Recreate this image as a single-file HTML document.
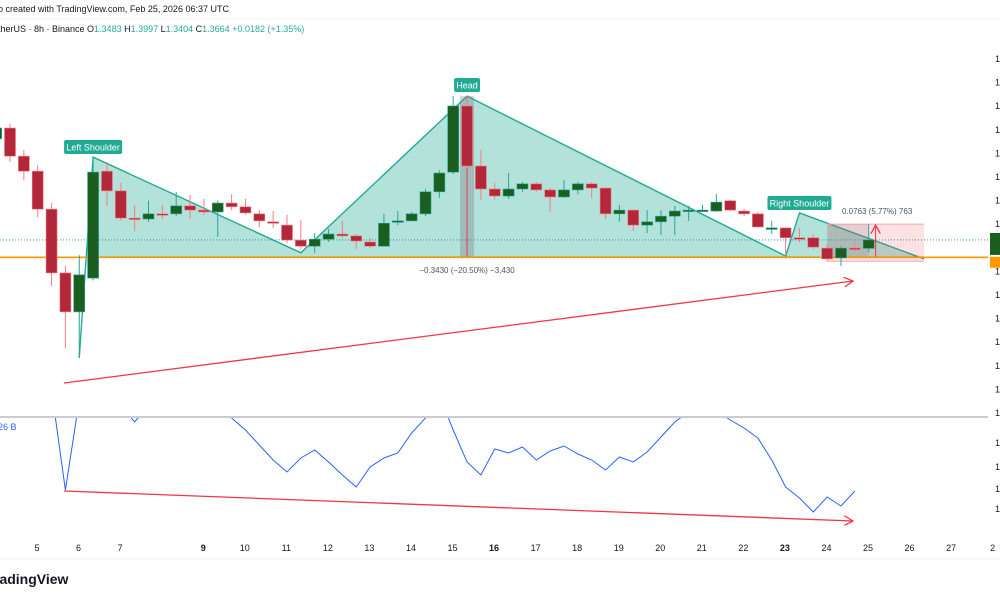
<!DOCTYPE html>
<html><head><meta charset="utf-8">
<style>
html,body{margin:0;padding:0;background:#fff;width:1000px;height:600px;overflow:hidden;font-family:"Liberation Sans",sans-serif;}
svg{display:block}
</style></head>
<body>
<svg id="chart" width="1000" height="600" viewBox="0 0 1000 600" xmlns="http://www.w3.org/2000/svg">
  <defs>
    <clipPath id="mainClip"><rect x="0" y="40" width="988" height="376"/></clipPath>
    <clipPath id="oscClip"><rect x="0" y="418" width="988" height="122"/></clipPath>
    <marker id="arr" markerWidth="10" markerHeight="10" refX="9" refY="5" orient="auto" markerUnits="userSpaceOnUse">
      <path d="M0,0 L9,5 L0,10" fill="none" stroke="#f23645" stroke-width="1.3"/>
    </marker>
  </defs>
  <text x="-2" y="12" font-size="9" fill="#131722">o created with TradingView.com, Feb 25, 2026 06:37 UTC</text>
  <line x1="0" y1="19" x2="1000" y2="19" stroke="#eef0f3"/>
  <text x="-2" y="32" font-size="9" fill="#131722">therUS · 8h · Binance  O<tspan fill="#22ab94">1.3483</tspan>  H<tspan fill="#22ab94">1.3997</tspan>  L<tspan fill="#22ab94">1.3404</tspan>  C<tspan fill="#22ab94">1.3664</tspan>  <tspan fill="#22ab94">+0.0182 (+1.35%)</tspan></text>
  <g id="g-main" clip-path="url(#mainClip)"></g>
  <g id="g-osc" clip-path="url(#oscClip)"></g>
  <g id="g-axis"></g>
  <line x1="0" y1="417" x2="988" y2="417" stroke="#9598a1" stroke-width="1"/>
  <text x="-2" y="430" font-size="9" fill="#2962ff">26 B</text>
  <line x1="0" y1="559" x2="1000" y2="559" stroke="#eef0f3"/>
  <text x="-6" y="584" font-size="14" font-weight="bold" fill="#131722">radingView</text>
</svg>
<script>
// ---- data ----
const opens  = [1.582,1.605,1.545,1.513,1.432,1.296,1.213,1.285,1.513,1.471,1.413,1.411,1.422,1.422,1.439,1.430,1.426,1.445,1.437,1.422,1.405,1.398,1.366,1.353,1.368,1.379,1.375,1.362,1.353,1.406,1.407,1.422,1.469,1.511,1.652,1.524,1.475,1.460,1.475,1.486,1.473,1.458,1.473,1.486,1.477,1.422,1.430,1.398,1.405,1.417,1.430,1.430,1.428,1.450,1.428,1.422,1.392,1.392,1.371,1.371,1.349,1.328,1.349,1.3483];
const highs  = [1.610,1.614,1.558,1.526,1.445,1.311,1.334,1.543,1.533,1.488,1.441,1.450,1.441,1.469,1.462,1.454,1.450,1.464,1.454,1.430,1.428,1.420,1.409,1.381,1.390,1.407,1.379,1.371,1.422,1.428,1.426,1.475,1.515,1.673,1.673,1.558,1.488,1.509,1.490,1.490,1.477,1.494,1.490,1.490,1.477,1.441,1.430,1.430,1.430,1.439,1.439,1.441,1.464,1.452,1.432,1.426,1.407,1.392,1.392,1.377,1.358,1.353,1.362,1.3997];
const lows   = [1.578,1.533,1.494,1.415,1.268,1.136,1.115,1.280,1.439,1.407,1.385,1.405,1.411,1.417,1.411,1.420,1.373,1.430,1.420,1.394,1.392,1.360,1.347,1.339,1.362,1.371,1.347,1.349,1.353,1.398,1.407,1.417,1.456,1.507,1.520,1.452,1.452,1.454,1.469,1.469,1.426,1.456,1.464,1.456,1.411,1.405,1.385,1.381,1.377,1.377,1.407,1.426,1.426,1.428,1.417,1.394,1.379,1.334,1.362,1.347,1.321,1.311,1.343,1.3404];
const closes = [1.605,1.545,1.513,1.432,1.296,1.213,1.292,1.511,1.471,1.413,1.411,1.422,1.421,1.439,1.430,1.426,1.445,1.437,1.424,1.407,1.402,1.366,1.353,1.368,1.379,1.375,1.364,1.353,1.402,1.407,1.422,1.469,1.509,1.652,1.524,1.475,1.460,1.475,1.486,1.473,1.458,1.473,1.486,1.477,1.422,1.430,1.398,1.405,1.417,1.428,1.430,1.430,1.447,1.430,1.422,1.394,1.392,1.371,1.370,1.351,1.326,1.349,1.348,1.3664];
// oscillator values, one per bar (starting at bar 4)
const oscStart = 4;
const oscValues = [150,50,140,150,145,135,118,135,140,140,140,140,135,122,110,95,80,68,82,90,78,65,53,73,82,87,107,122,145,110,78,65,91,87,93,80,89,94,86,80,70,83,78,88,103,118,128,135,130,120,112,102,80,53,42,28,43,34,49];
const dayLabels = ["5","6","7","9","10","11","12","13","14","15","16","17","18","19","20","21","22","23","24","25","26","27","2"];
const dayNums   = [5,6,7,9,10,11,12,13,14,15,16,17,18,19,20,21,22,23,24,25,26,27,28];
const boldDays  = ["9","16","23"];
// pattern points: [bar index, price]
const patternBars   = [6,7,22,34,57,58,67];
const patternPrices = [1.115,1.543,1.339,1.673,1.332,1.424,1.326];
const neckline = 1.3305;
const lastClose = 1.3664;

// ---- scales ----
const barW = 13.85;
const xOf = i => 10 + (i - 1) * barW;
const xDay = d => 37 + (d - 5) * 41.55;
const yOf = p => 257 - (p - 1.33) * 469;
const yOsc = v => 540 - v;

const NS = "http://www.w3.org/2000/svg";
function mk(tag, attrs, parent){ const e=document.createElementNS(NS,tag); for(const k in attrs) e.setAttribute(k,attrs[k]); parent.appendChild(e); return e; }
const gMain = document.getElementById('g-main');
const gOsc = document.getElementById('g-osc');
const gAxis = document.getElementById('g-axis');

// pattern fill and lines
const px = patternBars.map(xOf), py = patternPrices.map(yOf);
const baseY = yOf(neckline);
let fillPts = `${px[1]},${py[1]} ${px[2]},${py[2]} ${px[3]},${py[3]} ${px[4]},${py[4]} ${px[5]},${py[5]} ${px[6]},${py[6]} ${px[6]},${baseY} ${px[1]},${baseY}`;
const fill = mk('polygon',{points:fillPts, fill:'rgba(34,171,148,0.35)'},gMain);


const pLine = mk('polyline',{points:px.map((x,i)=>x+','+py[i]).join(' '), fill:'none', stroke:'#22ab94','stroke-width':1.4},gMain);


const bl = mk('line',{x1:px[1],y1:baseY,x2:px[6],y2:baseY,stroke:'#22ab94','stroke-dasharray':'2,2','stroke-width':1},gMain);



// head measure
const hx = xOf(34);
const hm = mk('rect',{x:hx-7,y:yOf(1.673),width:14,height:yOf(neckline)-yOf(1.673),fill:'rgba(120,123,134,0.35)'},gMain);


mk('line',{x1:hx,y1:yOf(1.673),x2:hx,y2:yOf(neckline),stroke:'#f23645','stroke-width':1},gMain);

// position box
const bx1 = xOf(60), bx2 = xOf(67);
const pb = mk('rect',{x:bx1,y:yOf(1.4),width:bx2-bx1,height:yOf(1.321)-yOf(1.4),fill:'rgba(242,54,69,0.15)',stroke:'none'},gMain);


mk('line',{x1:bx1,y1:yOf(1.4),x2:bx2,y2:yOf(1.4),stroke:'#f7a9ae'},gMain);
mk('line',{x1:bx1,y1:yOf(1.321),x2:bx2,y2:yOf(1.321),stroke:'#f7a9ae'},gMain);
mk('rect',{x:bx1,y:yOf(1.4),width:xOf(63)-bx1,height:yOf(1.33)-yOf(1.4),fill:'rgba(120,123,134,0.18)'},gMain);
mk('line',{x1:xOf(63.5),y1:yOf(1.328),x2:xOf(63.5),y2:yOf(1.398),stroke:'#f23645','stroke-width':1,'marker-end':'url(#arr)'},gMain);

// horizontal lines
const ol = mk('line',{x1:0,y1:yOf(neckline)+0.5,x2:988,y2:yOf(neckline)+0.5,stroke:'#ff9800','stroke-width':1.6},gMain);


const cl = mk('line',{x1:0,y1:yOf(lastClose),x2:988,y2:yOf(lastClose),stroke:'#089981','stroke-dasharray':'1,2','stroke-width':0.8},gMain);



// candles
for(let i=0;i<opens.length;i++){
  const x=xOf(i), up=closes[i]>=opens[i];
  const col = up ? '#1b5e20' : '#b2283a';
  const wcol = up ? '#26a69a' : '#f77c80';
  const g = mk('g',{},gMain);
  
  
  mk('line',{x1:x,y1:yOf(highs[i]),x2:x,y2:yOf(lows[i]),stroke:wcol,'stroke-width':1},g);
  const top=yOf(Math.max(opens[i],closes[i])), bot=yOf(Math.min(opens[i],closes[i]));
  mk('rect',{x:x-5.5,y:top,width:11,height:Math.max(1.5,bot-top),fill:col,stroke:wcol,'stroke-width':0.6},g);
}

// labels
function tag(text,cx,y,w,name){
  const g=mk('g',{},gMain);
  
  
  mk('rect',{x:cx-w/2,y:y,width:w,height:14,rx:2,fill:'#22ab94'},g);
  const t=mk('text',{x:cx,y:y+10.5,'text-anchor':'middle','font-size':9,fill:'#fff'},g); t.textContent=text;
}
tag('Left Shoulder',xOf(7),140,58,'left-shoulder-label');
tag('Head',xOf(34),78,26,'head-label');
tag('Right Shoulder',xOf(58),196,64,'right-shoulder-label');
let t1=mk('text',{x:hx,y:273,'text-anchor':'middle','font-size':8,fill:'#50535e'},gMain);
t1.textContent='−0.3430 (−20.50%) −3,430';


let t2=mk('text',{x:842,y:214,'font-size':8,fill:'#50535e'},gMain);
t2.textContent='0.0763 (5.77%) 763';



// trend arrows
const a1=mk('line',{x1:64,y1:383,x2:853,y2:281,stroke:'#f23645','stroke-width':1.3,'marker-end':'url(#arr)'},gMain);



// oscillator
const oPts = oscValues.map((v,k)=>xOf(oscStart+k)+','+yOsc(v)).join(' ');
const ol2=mk('polyline',{points:oPts,fill:'none',stroke:'#2962ff','stroke-width':1},gOsc);


const a2=mk('line',{x1:64,y1:491,x2:853,y2:521,stroke:'#f23645','stroke-width':1.3,'marker-end':'url(#arr)'},gOsc);



// axes
for(let k=0;k<16;k++){
  const t=mk('text',{x:995,y:62+k*23.6,'font-size':9,fill:'#131722'},gAxis); t.textContent='1';
  
  
}
[446,470,492,512].forEach(y=>{const t=mk('text',{x:995,y:y,'font-size':9,fill:'#131722'},gAxis);t.textContent='1';
  
  });
const lb=mk('rect',{x:990,y:yOf(lastClose)-7,width:12,height:22,fill:'#1b5e20'},gAxis);


const ob=mk('rect',{x:990,y:yOf(neckline),width:12,height:11,fill:'#ff9800'},gAxis);


dayLabels.forEach((d,k)=>{
  const t=mk('text',{x:xDay(dayNums[k]),y:551,'text-anchor':'middle','font-size':9,fill:'#131722','font-weight':boldDays.includes(d)?'bold':'normal'},gAxis);
  t.textContent=d;
  
  
});
</script>
</body></html>
